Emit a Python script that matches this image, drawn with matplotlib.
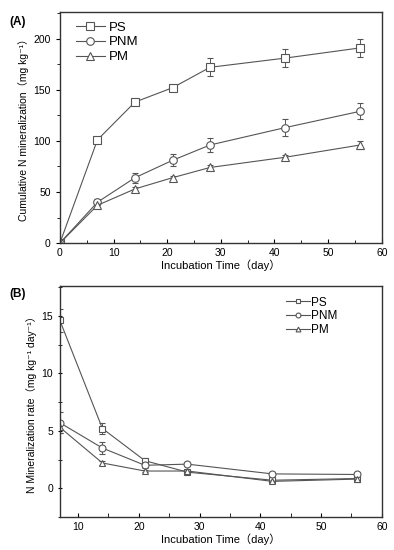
import numpy as np
import matplotlib
matplotlib.use('Agg')
import matplotlib.pyplot as plt
from matplotlib.ticker import MultipleLocator

plt.rcParams['font.family'] = ['Liberation Sans', 'DejaVu Sans', 'Noto Sans CJK SC']

# (A) cumulative N mineralization
days_a = [0, 7, 14, 21, 28, 42, 56]
ps_cum = [0, 101, 138, 152, 172, 181, 191]
ps_cum_err = [0, 3, 3, 3, 9, 9, 9]
pnm_cum = [0, 40, 64, 81, 96, 113, 129]
pnm_cum_err = [0, 3, 5, 6, 7, 8, 8]
pm_cum = [0, 37, 53, 64, 74, 84, 96]
pm_cum_err = [0, 2, 2, 2, 2, 2, 4]

# (B) mineralization rate
days_b = [7, 14, 21, 28, 42, 56]
ps_rate = [14.6, 5.2, 2.4, 1.4, 0.7, 0.85]
ps_rate_err = [1.0, 0.5, 0.2, 0.15, 0.1, 0.1]
pnm_rate = [5.7, 3.5, 2.0, 2.1, 1.25, 1.2]
pnm_rate_err = [0.9, 0.5, 0.2, 0.2, 0.1, 0.1]
pm_rate = [5.3, 2.2, 1.5, 1.5, 0.6, 0.8]
pm_rate_err = [0.5, 0.15, 0.1, 0.1, 0.1, 0.1]

labels = ['PS', 'PNM', 'PM']
markers = ['s', 'o', '^']
lc = '#555555'

fig = plt.figure(figsize=(3.94, 5.5), dpi=100)
ax1 = fig.add_axes([0.152, 0.558, 0.817, 0.420])
ax2 = fig.add_axes([0.152, 0.060, 0.817, 0.420])

for y, e, m, lab in zip([ps_cum, pnm_cum, pm_cum], [ps_cum_err, pnm_cum_err, pm_cum_err], markers, labels):
    ax1.errorbar(days_a, y, yerr=e, color=lc, lw=0.8, marker=m, ms=5.5, mfc='white', mec=lc,
                 mew=0.8, capsize=2, elinewidth=0.7, capthick=0.7, label=lab)
for y, e, m, lab in zip([ps_rate, pnm_rate, pm_rate], [ps_rate_err, pnm_rate_err, pm_rate_err], markers, labels):
    ax2.errorbar(days_b, y, yerr=e, color=lc, lw=0.8, marker=m, ms=5, mfc='white', mec=lc,
                 mew=0.8, capsize=2, elinewidth=0.7, capthick=0.7, label=lab)

ax1.set_xlim(0, 60)
ax1.set_ylim(0, 226)
ax1.xaxis.set_major_locator(MultipleLocator(10))
ax1.xaxis.set_minor_locator(MultipleLocator(5))
ax1.yaxis.set_major_locator(MultipleLocator(50))
ax1.yaxis.set_minor_locator(MultipleLocator(25))
ax1.tick_params(axis='x', which='both', direction='in', top=False, labelsize=7.5)
ax1.tick_params(axis='y', which='both', direction='out', right=False, labelsize=7.5)
ax1.tick_params(which='major', length=3)
ax1.tick_params(which='minor', length=2)
ax1.set_xlabel('Incubation Time（day）', fontsize=8, labelpad=1)
ax1.set_ylabel('Cumulative N mineralization（mg kg⁻¹）', fontsize=7.5, labelpad=3)
h, l = ax1.get_legend_handles_labels()
ax1.legend([x[0] for x in h], l, loc='upper left', frameon=False, fontsize=9.5,
           handlelength=2.2, handletextpad=0.3, labelspacing=0.2, borderaxespad=0.3,
           bbox_to_anchor=(0.02, 1.0))

ax2.set_xlim(7, 60)
ax2.set_ylim(-2.5, 17.6)
ax2.xaxis.set_major_locator(MultipleLocator(10))
ax2.xaxis.set_minor_locator(MultipleLocator(5))
ax2.yaxis.set_major_locator(MultipleLocator(5))
ax2.yaxis.set_minor_locator(MultipleLocator(2.5))
ax2.tick_params(axis='x', which='both', direction='in', top=False, labelsize=7.5)
ax2.tick_params(axis='y', which='both', direction='inout', right=False, labelsize=7.5)
ax2.tick_params(which='major', length=3)
ax2.tick_params(which='minor', length=3)
ax2.set_xlabel('Incubation Time（day）', fontsize=8, labelpad=1)
ax2.set_ylabel('N Mineralization rate（mg kg⁻¹ day⁻¹）', fontsize=7.5, labelpad=3)
h, l = ax2.get_legend_handles_labels()
ax2.legend([x[0] for x in h], l, loc='upper left', frameon=False, fontsize=8.5,
           handlelength=2.0, handletextpad=0.1, labelspacing=0.15, markerscale=0.7,
           bbox_to_anchor=(0.67, 1.0))

for ax in (ax1, ax2):
    for s in ax.spines.values():
        s.set_linewidth(1.0)
        s.set_color('#333333')

fig.text(0.025, 0.955, '(A)', fontsize=8.5, fontweight='bold')
fig.text(0.025, 0.460, '(B)', fontsize=8.5, fontweight='bold')

plt.savefig('out.png', dpi=100)
